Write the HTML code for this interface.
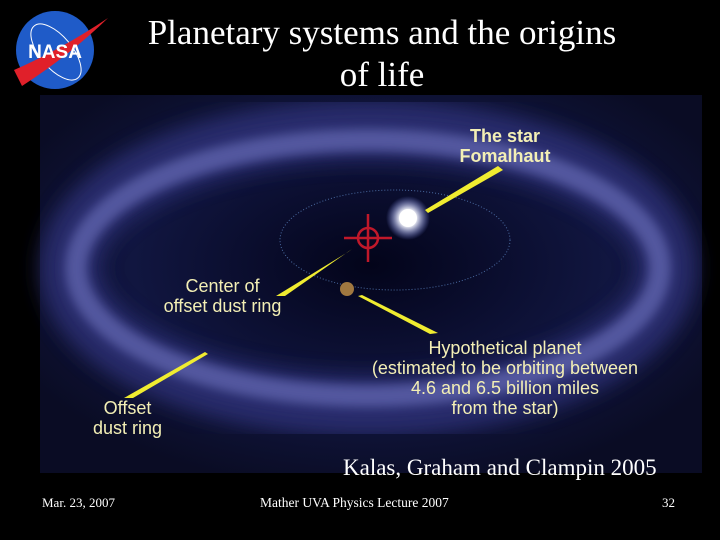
<!DOCTYPE html>
<html><head><style>
body{margin:0;width:720px;height:540px;background:#000;overflow:hidden;position:relative;font-family:"Liberation Serif",serif;color:#fff}
.t{position:absolute;white-space:nowrap}
.s{font-family:"Liberation Sans",sans-serif;color:#f3efb5;font-size:18px;text-align:center;line-height:20px}
</style></head><body>
<div class="t" style="left:0;width:764px;text-align:center;top:12px;font-size:35px;line-height:42px">Planetary systems and the origins<br>of life</div>
<svg width="720" height="540" style="position:absolute;left:0;top:0">
<defs>
<radialGradient id="bg" cx="50%" cy="45%" r="60%"><stop offset="0" stop-color="#03041a"/><stop offset="0.6" stop-color="#111640"/><stop offset="1" stop-color="#0a0c24"/></radialGradient>
<radialGradient id="st"><stop offset="0" stop-color="#fff"/><stop offset="0.35" stop-color="#fff"/><stop offset="1" stop-color="#8090ff" stop-opacity="0"/></radialGradient>
<filter id="bl"><feGaussianBlur stdDeviation="10"/></filter>
<filter id="b2"><feGaussianBlur stdDeviation="5"/></filter>
</defs>
<rect x="40" y="95" width="662" height="378" fill="url(#bg)"/>
<ellipse cx="368" cy="268" rx="298" ry="138" fill="none" stroke="#2e3378" stroke-width="60" filter="url(#bl)" opacity="0.8"/>
<ellipse cx="368" cy="268" rx="292" ry="128" fill="none" stroke="#6266b0" stroke-width="22" filter="url(#b2)" opacity="0.75"/>
<ellipse cx="395" cy="240" rx="115" ry="50" fill="none" stroke="#4a6aa0" stroke-width="1" stroke-dasharray="1 2"/>
<circle cx="408" cy="218" r="22" fill="url(#st)"/>
<circle cx="408" cy="218" r="9" fill="#fff"/>
<g stroke="#c0182a" stroke-width="2.5" fill="none"><circle cx="368" cy="238" r="10"/><line x1="344" y1="238" x2="392" y2="238"/><line x1="368" y1="214" x2="368" y2="262"/></g>
<circle cx="347" cy="289" r="7" fill="#a07840"/>
<g fill="#f0ec30">
<polygon points="425,210 498,166 503,170 428,213"/>
<polygon points="352,249 348,252 276,296 285,296"/>
<polygon points="358,296 362,295 438,333 430,334"/>
<polygon points="205,352 208,354 133,398 124,398"/>
</g>
<circle cx="55" cy="50" r="39" fill="#1f5bc8"/>
<ellipse cx="56" cy="52" rx="16" ry="34" transform="rotate(-40 56 52)" fill="none" stroke="#fff" stroke-width="1"/>
<path d="M14 70 Q60 50 108 18 Q70 55 22 86Z" fill="#e0202a"/>
<text x="55" y="58" font-family="Liberation Sans" font-weight="bold" font-size="19" fill="#fff" text-anchor="middle">NASA</text>
</svg>
<div class="t s" style="left:440px;width:130px;top:126px;font-weight:bold;font-size:18px">The star<br>Fomalhaut</div>
<div class="t s" style="left:135px;width:175px;top:276px">Center of<br>offset dust ring</div>
<div class="t s" style="left:340px;width:330px;top:338px">Hypothetical planet<br>(estimated to be orbiting between<br>4.6 and 6.5 billion miles<br>from the star)</div>
<div class="t s" style="left:80px;width:95px;top:398px">Offset<br>dust ring</div>
<div class="t" style="left:343px;top:455px;font-size:23px">Kalas, Graham and Clampin 2005</div>
<div class="t" style="left:42px;top:495px;font-size:13px">Mar. 23,  2007</div>
<div class="t" style="left:260px;top:495px;font-size:13.5px">Mather UVA Physics Lecture 2007</div>
<div class="t" style="left:662px;top:495px;font-size:13px">32</div>
</body></html>
